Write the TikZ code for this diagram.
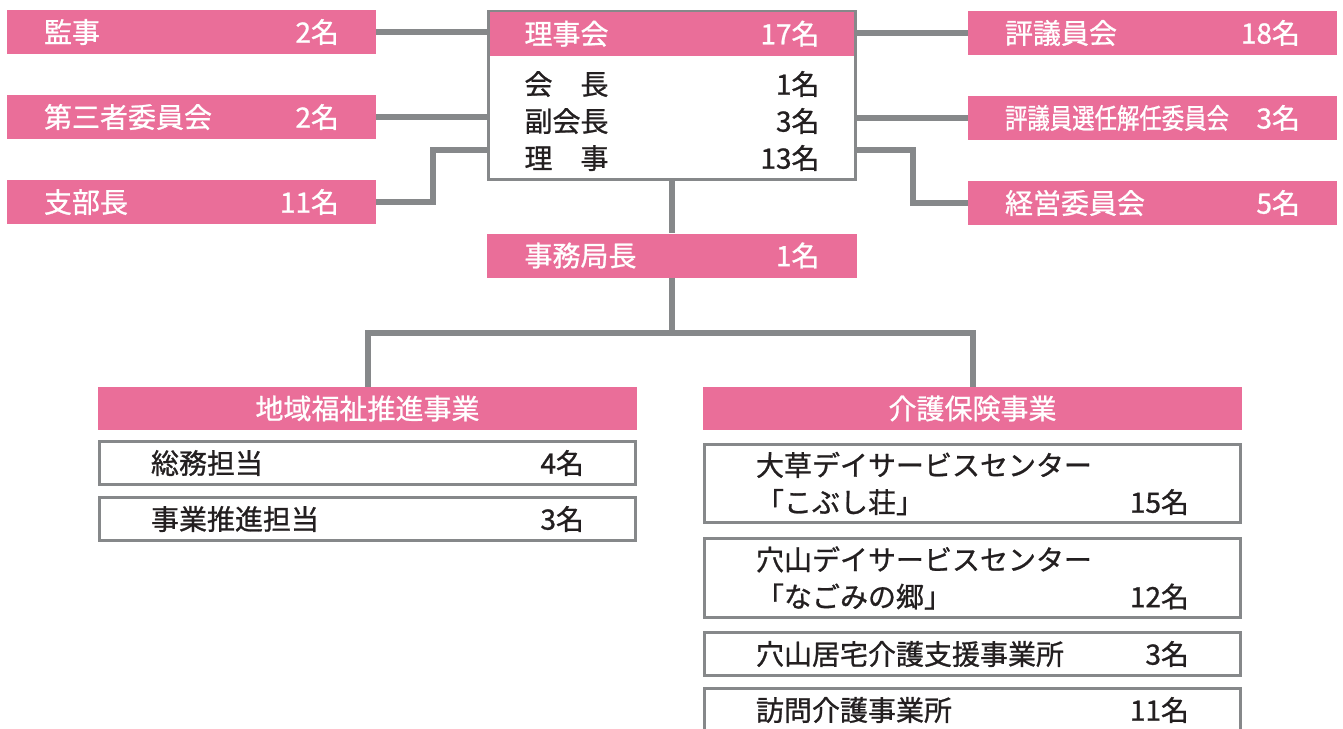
\documentclass[tikz,border=0pt]{standalone}
\usepackage{fontspec}
\setmainfont{Noto Sans CJK JP}[FakeBold=0.9]
\definecolor{orgpink}{RGB}{234,110,153}
\definecolor{orggray}{RGB}{134,136,138}
\definecolor{orgtext}{RGB}{35,31,32}
\tikzset{
  orgnode/.style={rectangle, inner sep=0pt, align=left, font=\fontsize{28}{37}\selectfont},
  pinkbox/.style={orgnode, fill=orgpink, text=white, minimum width=369pt, minimum height=44pt, text width=295pt},
  whitebox/.style={orgnode, draw=orggray, line width=3pt, fill=white, text=orgtext, minimum width=536pt, minimum height=43pt, text width=433pt},
  headbox/.style={orgnode, fill=orgpink, text=white, minimum width=539pt, minimum height=43pt, align=center},
  link/.style={draw=orggray, line width=6pt}
}
\begin{document}
\begin{tikzpicture}[x=1pt,y=-1pt] %organigrama
  \path[use as bounding box, clip] (0,0) rectangle (1343,728);

  \node[pinkbox] (kanji) at (191.5,32) {監事\hfill 2名};
  \node[pinkbox] (daisan) at (191.5,117) {第三者委員会\hfill 2名};
  \node[pinkbox] (shibu) at (191.5,202) {支部長\hfill 11名};

  \node[draw=orggray, line width=3pt, fill=white, minimum width=367pt, minimum height=168pt] (council) at (672,95.5) {};
  \node[pinkbox, minimum width=364pt, anchor=north] (rijikai) at ([yshift=-1.5pt]council.north) {理事会\hfill 17名};
  \node[orgnode, text=orgtext, text width=295pt] (members) at (672,121) {会　長\hfill 1名\\副会長\hfill 3名\\理　事\hfill 13名};

  \node[pinkbox] (hyogiin) at (1152.5,33) {評議員会\hfill 18名};
  \node[pinkbox] (senin) at (1152.5,118) {\scalebox{0.8}[1]{評議員選任解任委員会}\hfill 3名};
  \node[pinkbox] (keiei) at (1152.5,203) {経営委員会\hfill 5名};

  \node[pinkbox, minimum width=370pt] (jimu) at (672,255.5) {事務局長\hfill 1名};

  \node[headbox] (chiiki) at (367.5,408.5) {地域福祉推進事業};
  \node[whitebox] (soumu) at (367.5,463) {総務担当\hfill 4名};
  \node[whitebox] (suishin) at (367.5,519) {事業推進担当\hfill 3名};

  \node[headbox] (kaigo) at (972.5,408.5) {介護保険事業};
  \node[whitebox, minimum height=78pt] (ooku) at (972.5,483.5) {大草デイサービスセンター\\「こぶし荘」\hfill 15名};
  \node[whitebox, minimum height=79pt] (anayama) at (972.5,578) {穴山デイサービスセンター\\「なごみの郷」\hfill 12名};
  \node[whitebox] (kyotaku) at (972.5,654) {穴山居宅介護支援事業所\hfill 3名};
  \node[whitebox] (houmon) at (972.5,710) {訪問介護事業所\hfill 11名};

  \coordinate (bendL) at (433,150);
  \coordinate (bendR) at (913,150);
  \coordinate (split) at (672,333);

  \draw[link] (kanji.east) -- (kanji.east -| council.west);
  \draw[link] (daisan.east) -- (daisan.east -| council.west);
  \draw[link] (shibu.east) -| (bendL) -- (bendL -| council.west);
  \draw[link] (hyogiin.west -| council.east) -- (hyogiin.west);
  \draw[link] (senin.west -| council.east) -- (senin.west);
  \draw[link] (bendR -| council.east) -- (bendR) |- (keiei.west);
  \draw[link] (council.south) -- (jimu.north);
  \draw[link] (jimu.south) -- (split);
  \draw[link] (chiiki.north) |- (split) -| (kaigo.north);
\end{tikzpicture}
\end{document}
